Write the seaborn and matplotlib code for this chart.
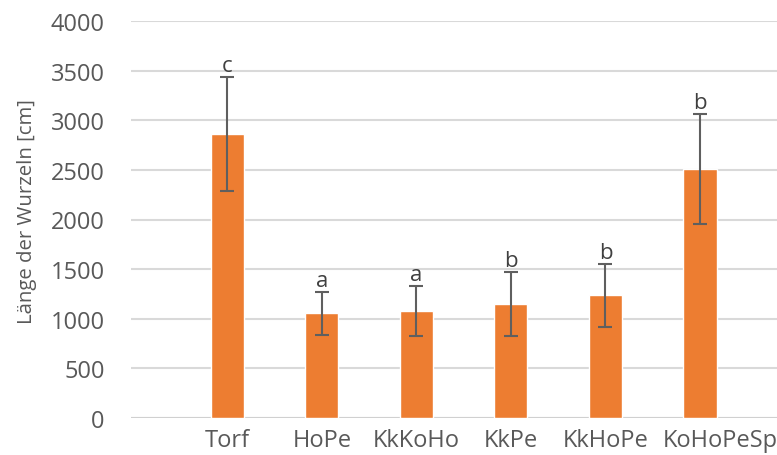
import numpy as np
import seaborn as sns
import matplotlib.pyplot as plt
import matplotlib.transforms as mtransforms

categories = ["Torf", "HoPe", "KkKoHo", "KkPe", "KkHoPe", "KoHoPeSp"]
means = [2860, 1055, 1080, 1150, 1235, 2505]
errors = [575, 215, 250, 320, 315, 555]
letters = ["c", "a", "a", "b", "b", "b"]

sns.set_theme(style="white")
plt.rcParams['font.family'] = ['Open Sans', 'DejaVu Sans']

fig = plt.figure(figsize=(7.77, 4.56), dpi=100)
ax = fig.add_axes([131 / 777, 37 / 456, 646 / 777, 397 / 456])

sns.barplot(x=categories, y=means, color="#ED7D31", width=0.35,
            saturation=1, ax=ax, zorder=3)

pos = np.arange(len(categories))
ax.errorbar(pos, means, yerr=errors, fmt="none", ecolor="#5f5f5f",
            elinewidth=1.5, capsize=5, capthick=1.5, zorder=4)

for x, m, e, t in zip(pos, means, errors, letters):
    ax.annotate(t, (x, m + e), xytext=(0, 4.5), textcoords="offset points",
                ha="center", va="baseline", fontsize=16, color="#404040",
                zorder=5)

ax.set_ylim(0, 4000)
ax.set_yticks(np.arange(0, 4001, 500))
ax.set_xlim(-1.02, 5.815)
ax.yaxis.grid(True, color="#D9D9D9", linewidth=1.5, zorder=0)
ax.xaxis.grid(False)
for s in ax.spines.values():
    s.set_visible(False)
ax.axhline(0, color="#D0D0D0", linewidth=1.5, zorder=2)

ax.tick_params(axis="y", length=0, pad=19, labelsize=17, labelcolor="#595959")
ax.tick_params(axis="x", length=0, pad=7, labelsize=17, labelcolor="#595959")

# the last label sits a bit right of its bar in the original
last = ax.get_xticklabels()[-1]
last.set_transform(last.get_transform() +
                   mtransforms.ScaledTranslation(0.2, 0, fig.dpi_scale_trans))

ax.set_ylabel("")
fig.text(27 / 777, 1 - 212 / 456, "Länge der Wurzeln [cm]", rotation=90,
         ha="center", va="center", fontsize=14.7, color="#595959")

fig.savefig("out.png", dpi=100)
